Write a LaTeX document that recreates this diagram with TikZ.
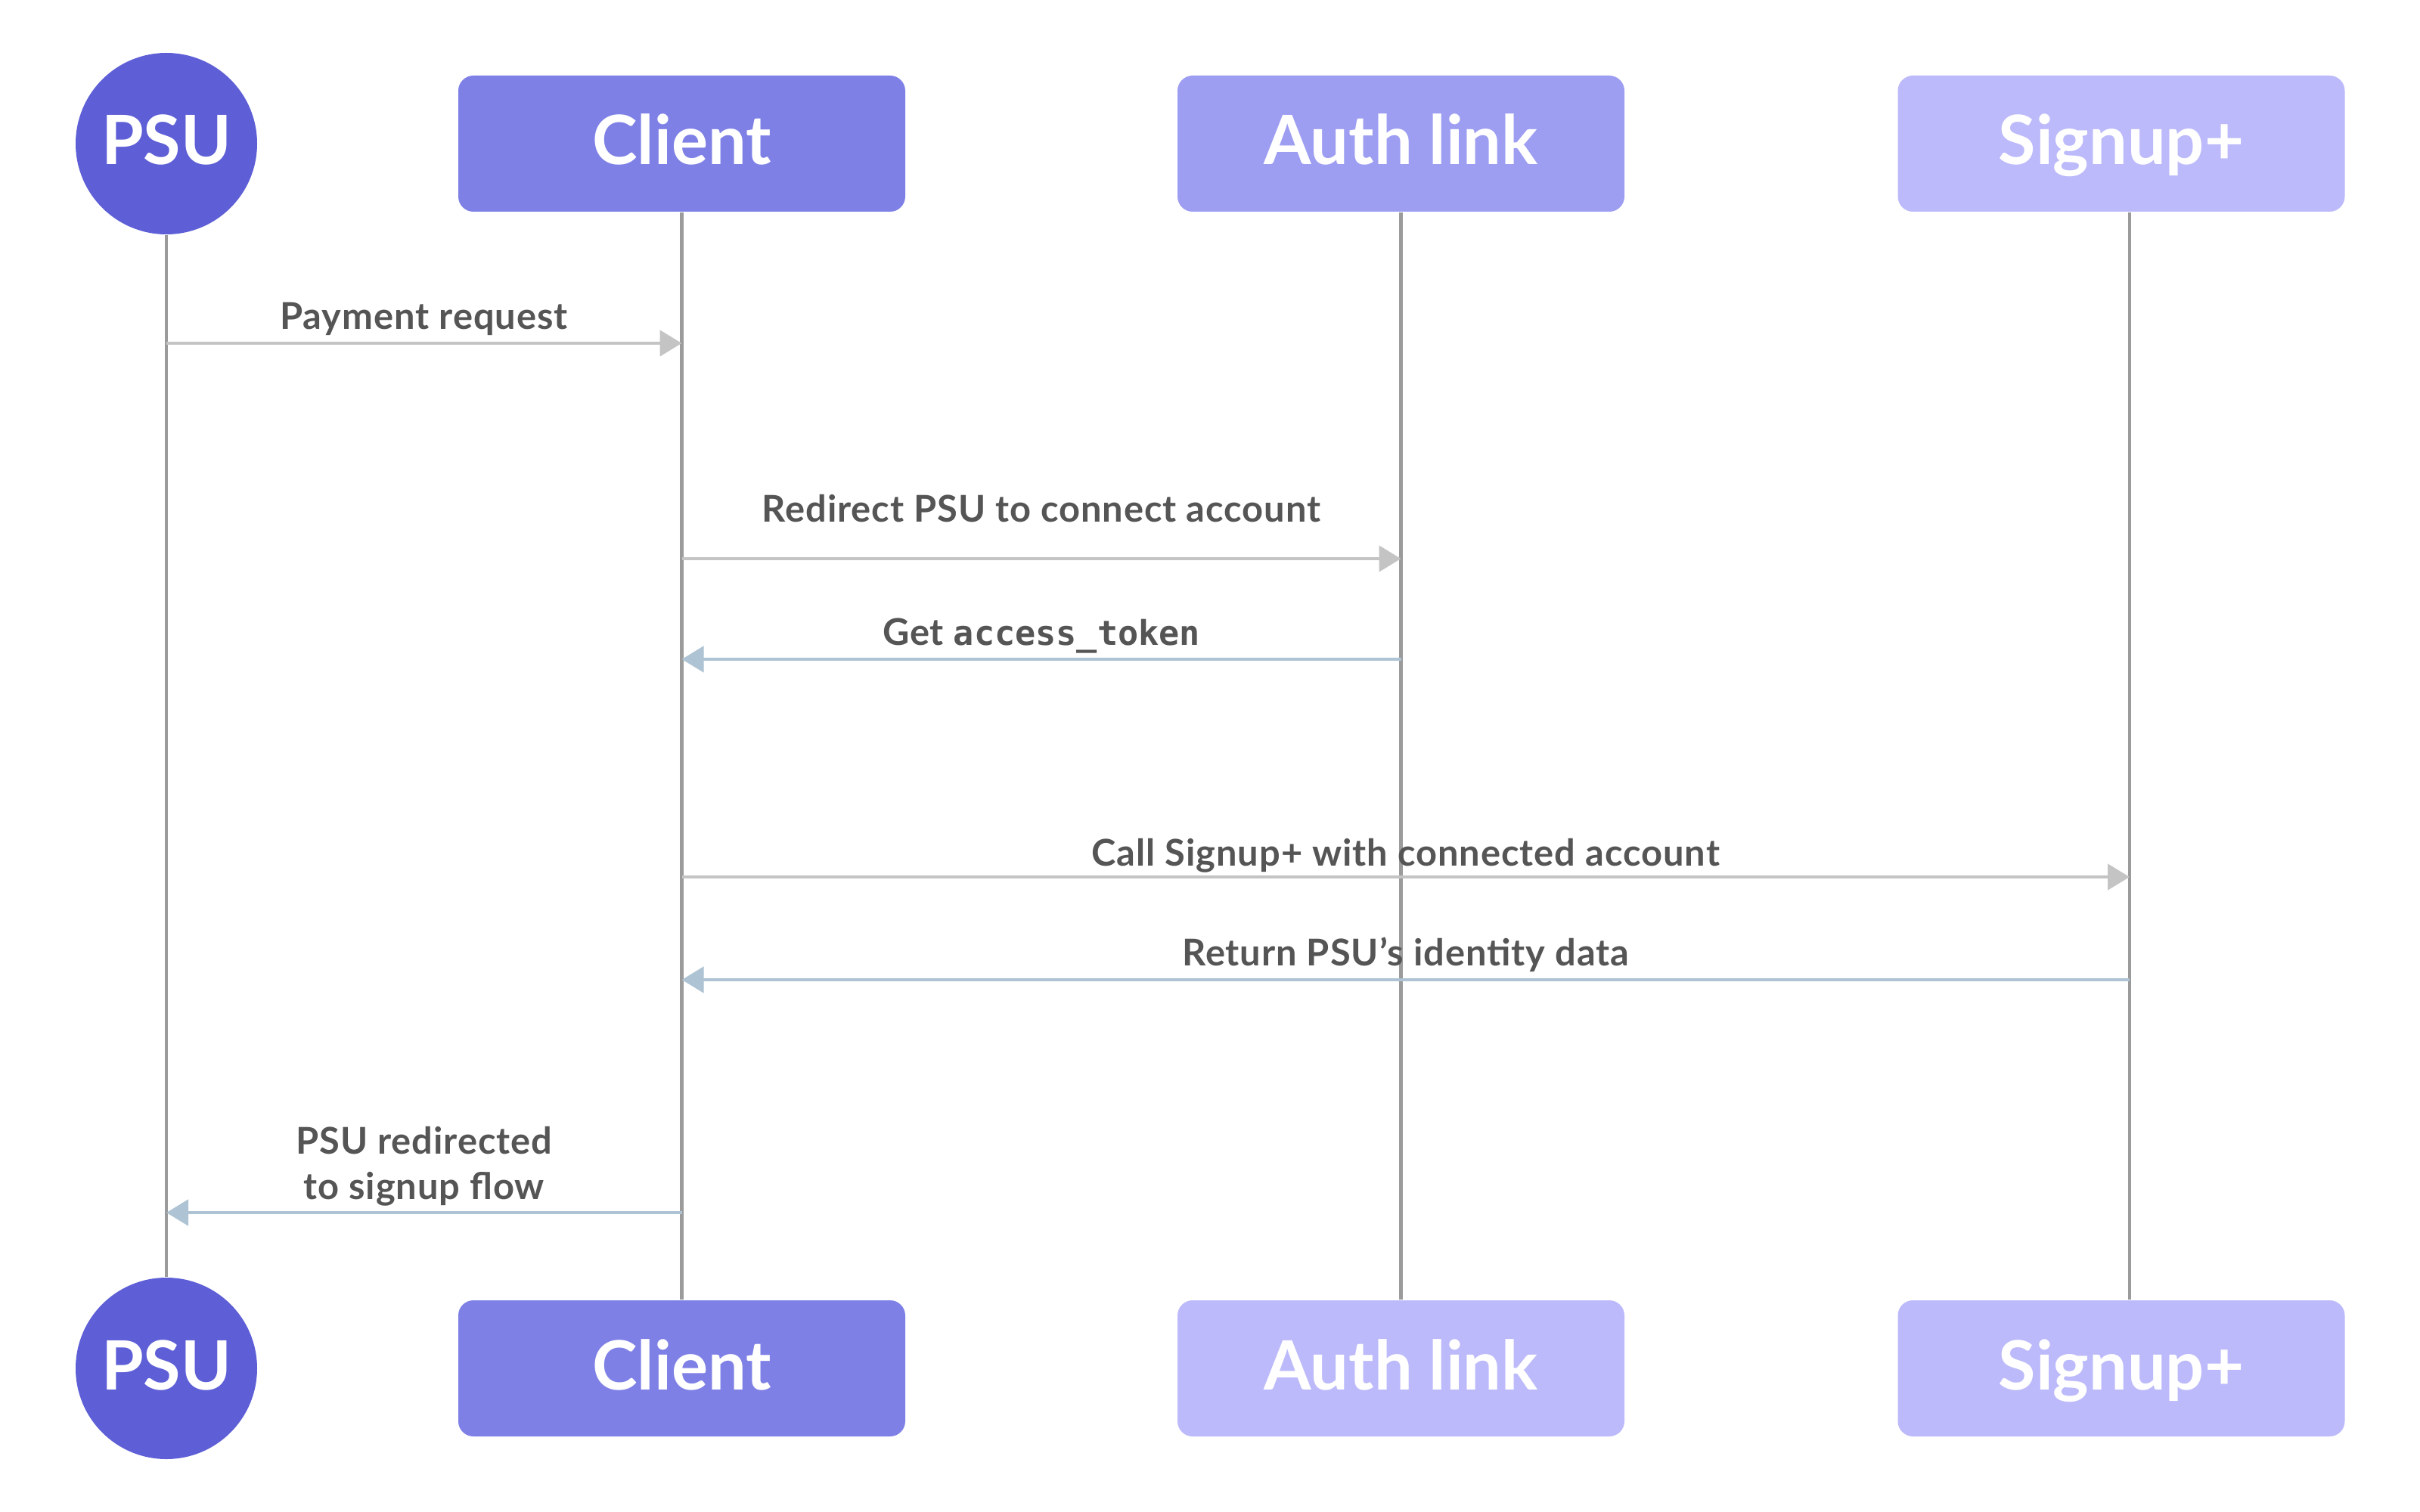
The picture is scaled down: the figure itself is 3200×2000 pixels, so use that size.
\documentclass[tikz,border=0pt]{standalone}
\usepackage{fontspec}
\setmainfont{Lato}
\newfontfamily\lblfont[LetterSpace=2]{Lato}
\newfontfamily\codefont[Scale=0.925]{DejaVu Sans Mono}
\usetikzlibrary{arrows.meta,calc}
\definecolor{psucol}{HTML}{5E5FD6}
\definecolor{clicol}{HTML}{7E80E6}
\definecolor{autcol}{HTML}{9D9DF2}
\definecolor{sigcol}{HTML}{BCBAFA}
\definecolor{lifecol}{HTML}{9B9B9B}
\definecolor{fwdcol}{HTML}{C4C4C4}
\definecolor{backcol}{HTML}{AEC3D3}
\definecolor{txtcol}{HTML}{555555}
\begin{document}
\begin{tikzpicture}[x=0.25pt,y=-0.25pt,
  actor/.style={circle,fill=psucol,minimum size=60pt,inner sep=0pt,text=white,text height=14pt,text depth=0pt,font=\bfseries\fontsize{22.5}{26}\selectfont},
  party/.style={rectangle,rounded corners=5pt,minimum width=147.75pt,minimum height=45pt,inner sep=0pt,text=white,text height=14pt,text depth=0pt,font=\bfseries\fontsize{22.5}{26}\selectfont},
  life/.style={draw=lifecol,line width=1.15pt},
  fwd/.style={draw=fwdcol,line width=1.2pt,-{Triangle[length=7.25pt,width=8.5pt]}},
  back/.style={draw=backcol,line width=1.2pt,-{Triangle[length=7.25pt,width=8.5pt]}},
  lbl/.style={anchor=base,inner sep=0pt,text=txtcol,font=\lblfont\bfseries\fontsize{12.2}{15}\selectfont,align=center}]
\useasboundingbox (0,0) rectangle (3200,2000);
% top row
\node[actor] (psuT) at (220,190) {PSU};
\node[party,fill=clicol] (cliT) at (901.5,190) {Client};
\node[party,fill=autcol] (autT) at (1852.5,190) {Auth link};
\node[party,fill=sigcol] (sigT) at (2805,190) {Signup+};
% bottom row
\node[actor] (psuB) at (220,1810) {PSU};
\node[party,fill=clicol] (cliB) at (901.5,1810) {Client};
\node[party,fill=sigcol] (autB) at (1852.5,1810) {Auth link};
\node[party,fill=sigcol] (sigB) at (2805,1810) {Signup+};
% lifeline anchors
\coordinate (psuL) at (psuT.south);
\coordinate (cliL) at (cliT.south);
\coordinate (autL) at (autT.south);
\coordinate (sigL) at ([xshift=2.75pt]sigT.south);
% lifelines
\draw[life] (psuT.south) -- (psuB.north);
\draw[life] (cliT.south) -- (cliB.north);
\draw[life] (autT.south) -- (autB.north);
\draw[life] (sigL) -- (sigL |- sigB.north);
% message rows
\coordinate (m1) at (0,454);
\coordinate (m2) at (0,739);
\coordinate (m3) at (0,872);
\coordinate (m4) at (0,1160);
\coordinate (m5) at (0,1296);
\coordinate (m6) at (0,1604);
\draw[fwd] (psuL |- m1) -- node[lbl,yshift=4.5pt]{Payment request} (cliL |- m1);
\draw[fwd] (cliL |- m2) -- node[lbl,yshift=12.25pt]{Redirect PSU to connect account} (autL |- m2);
\draw[back] (autL |- m3) -- node[lbl,yshift=4.75pt]{Get {\codefont access\_token}} (cliL |- m3);
\draw[fwd] (cliL |- m4) -- node[lbl,yshift=3.75pt]{Call Signup+ with connected account} (sigL |- m4);
\draw[back] (sigL |- m5) -- node[lbl,yshift=4.75pt]{Return PSU’s identity data} (cliL |- m5);
\draw[back] (cliL |- m6) -- node[lbl,yshift=4.5pt]{PSU redirected\\to signup flow} (psuL |- m6);
\end{tikzpicture}
\end{document}
